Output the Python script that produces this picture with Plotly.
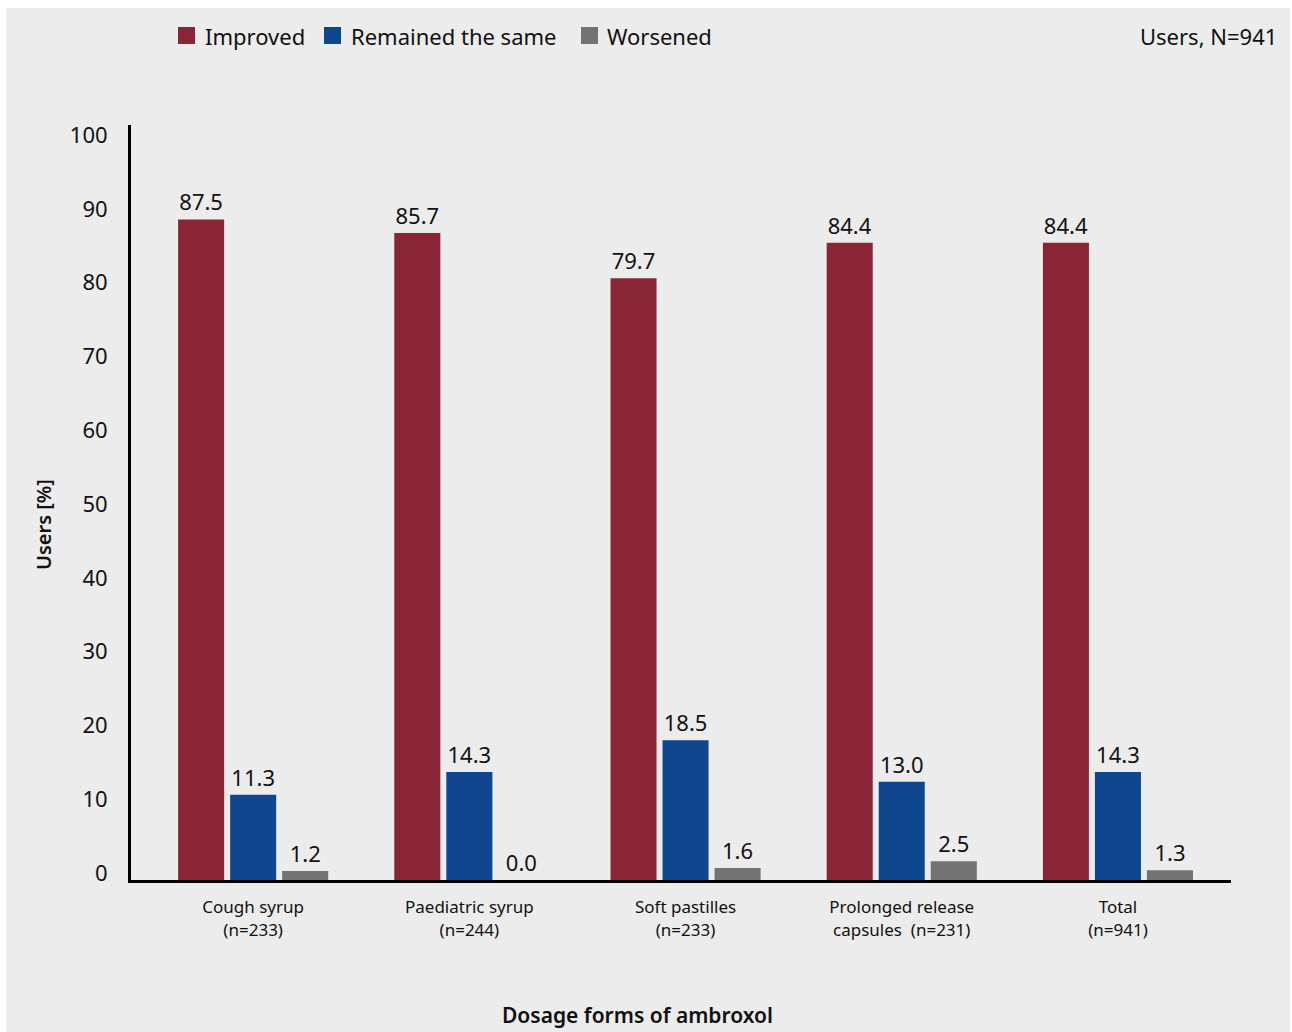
import plotly.graph_objects as go

categories = ["Cough syrup<br>(n=233)", "Paediatric syrup<br>(n=244)", "Soft pastilles<br>(n=233)",
              "Prolonged release<br>capsules  (n=231)", "Total<br>(n=941)"]
series_names = ["Improved", "Remained the same", "Worsened"]
improved = [87.5, 85.7, 79.7, 84.4, 84.4]
remained = [11.3, 14.3, 18.5, 13.0, 14.3]
worsened = [1.2, 0.0, 1.6, 2.5, 1.3]
y_ticks = [0, 10, 20, 30, 40, 50, 60, 70, 80, 90, 100]

colors = ["#8a2538", "#0f468e", "#737373"]
FONT = "Noto Sans"

W, H = 1292, 1032
L, R, T, B = 131, 1231, 125, 880  # plot area in pixels


def px(x):
    return (x - L) / (R - L)


def py(y):
    return (B - y) / (B - T)


fig = go.Figure()
for name, vals, col in zip(series_names, [improved, remained, worsened], colors):
    fig.add_trace(go.Bar(
        x=categories, y=vals, name=name, marker=dict(color=col, line=dict(width=0)),
        texttemplate="%{y:.1f}", textposition="outside", cliponaxis=False,
        textfont=dict(family=FONT, size=22, color="#111111"), showlegend=False,
    ))
# empty helper trace so the labelled value axis (y2) is drawn
fig.add_trace(go.Scatter(x=[], y=[], yaxis="y2", showlegend=False, hoverinfo="skip"))

shapes = [dict(type="rect", xref="paper", yref="paper", x0=px(6), x1=px(1290), y0=py(1032), y1=py(8),
               fillcolor="#ececec", line=dict(width=0), layer="below")]
annotations = []
legend_items = [(178, 203), (324, 349), (581, 605)]
for (sx, tx), name, col in zip(legend_items, series_names, colors):
    shapes.append(dict(type="rect", xref="paper", yref="paper", x0=px(sx), x1=px(sx + 17),
                       y0=py(44), y1=py(27), fillcolor=col, line=dict(width=0)))
    annotations.append(dict(text=name, xref="paper", yref="paper", x=px(tx), y=py(36),
                            xanchor="left", yanchor="middle", showarrow=False,
                            font=dict(family=FONT, size=22, color="#111111")))
annotations.append(dict(text="Users, N=941", xref="paper", yref="paper", x=px(1279), y=py(36),
                        xanchor="right", yanchor="middle", showarrow=False,
                        font=dict(family=FONT, size=22, color="#111111")))
annotations.append(dict(text="Users [%]", xref="paper", yref="paper", x=px(43), y=py(525),
                        xanchor="center", yanchor="middle", textangle=-90, showarrow=False,
                        font=dict(family=FONT, size=20, color="#111111", weight=600)))
annotations.append(dict(text="Dosage forms of ambroxol", xref="paper", yref="paper", x=px(637), y=py(1015),
                        xanchor="center", yanchor="middle", showarrow=False,
                        font=dict(family=FONT, size=21, color="#111111", weight=600)))

fig.update_layout(
    width=W, height=H,
    margin=dict(l=L, r=W - R, t=T, b=H - B, pad=0),
    paper_bgcolor="white", plot_bgcolor="rgba(0,0,0,0)",
    barmode="group", bargap=0.278, bargroupgap=0.115,
    shapes=shapes, annotations=annotations,
    font=dict(family=FONT, color="#111111"),
    xaxis=dict(type="category", range=[-0.565, 4.523], showline=True, linecolor="black", linewidth=3,
               ticks="", showgrid=False, zeroline=False, ticklabelstandoff=10,
               tickfont=dict(family=FONT, size=17, color="#111111")),
    yaxis=dict(range=[0, 100], visible=False, showgrid=False, zeroline=False),
    yaxis2=dict(overlaying="y", anchor="x", side="left", range=[-0.949, 101.36],
                tickvals=y_ticks, ticktext=[str(v) for v in y_ticks],
                showline=True, linecolor="black", linewidth=3, ticks="", showgrid=False, zeroline=False,
                ticklabelstandoff=16, tickfont=dict(family=FONT, size=22, color="#111111")),
)

fig.write_html("out.html")
